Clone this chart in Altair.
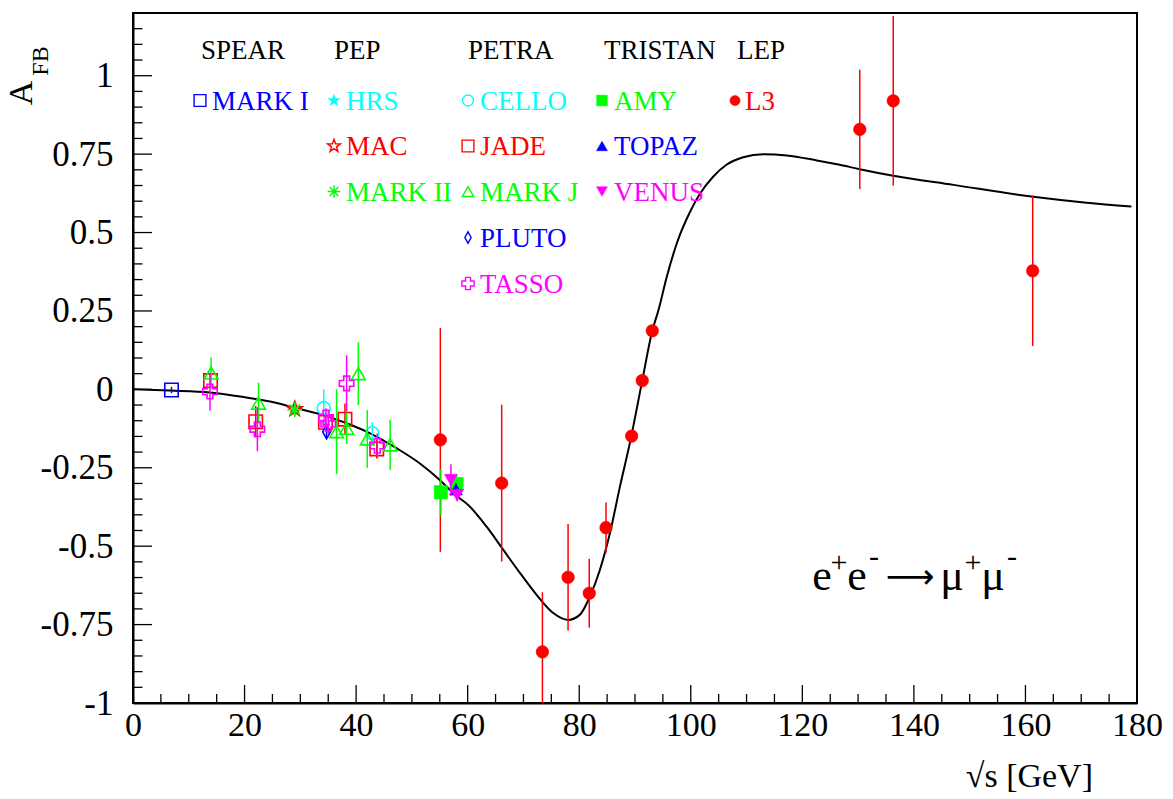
import altair as alt
import pandas as pd
import numpy as np

# ------------------------------------------------------------------ data
CURVE_X = [0, 6.6, 13.8, 19.2, 24.6, 29.3, 34.1, 38.3, 42.5, 47.3, 51.5, 55.0,
           57.4, 60.4, 63.4, 66.4, 69.4, 72.4, 75.4, 78.0, 80.1, 81.9, 83.7,
           85.5, 87.3, 89.2, 91.3, 93.1, 94.2, 95.7, 97.5, 99.9, 101.7, 104.0,
           106.4, 109.4, 113.0, 117.2, 122.6, 126.7, 130.3, 136.3, 147.1,
           161.4, 171.0, 179.0]
CURVE_Y = [0.0, -0.004, -0.010, -0.023, -0.039, -0.060, -0.082, -0.108, -0.140,
           -0.188, -0.237, -0.289, -0.331, -0.374, -0.438, -0.512, -0.586,
           -0.656, -0.714, -0.735, -0.719, -0.661, -0.576, -0.459, -0.310,
           -0.161, 0.028, 0.187, 0.252, 0.359, 0.466, 0.567, 0.625, 0.678,
           0.716, 0.740, 0.750, 0.746, 0.730, 0.716, 0.702, 0.681, 0.652,
           0.614, 0.595, 0.583]

MARKI_X = [6.9]
MARKI_Y = [-0.002]
MARKI_E = [0.01]

HRS_X = [29.0]
HRS_Y = [-0.060]
HRS_E = [0.02]

MAC_X = [29.0]
MAC_Y = [-0.063]
MAC_E = [0.015]

MARKII_X = [29.0]
MARKII_Y = [-0.065]
MARKII_E = [0.02]

CELLO_X = [34.2, 42.9]
CELLO_Y = [-0.060, -0.140]
CELLO_E = [0.06, 0.035]

JADE_X = [13.9, 22.0, 34.5, 38.0, 43.7]
JADE_Y = [0.028, -0.103, -0.105, -0.095, -0.190]
JADE_E = [0.02, 0.05, 0.02, 0.05, 0.03]

MARKJ_X = [14.0, 22.5, 36.5, 38.3, 40.4, 42.0, 46.1]
MARKJ_Y = [0.052, -0.044, -0.135, -0.124, 0.050, -0.158, -0.177]
MARKJ_E = [0.05, 0.065, 0.135, 0.05, 0.10, 0.092, 0.08]

PLUTO_X = [34.7]
PLUTO_Y = [-0.135]
PLUTO_E = [0.02]

TASSO_X = [13.8, 22.3, 34.6, 35.0, 38.3, 43.8]
TASSO_Y = [-0.007, -0.127, -0.090, -0.110, 0.019, -0.180]
TASSO_E = [0.06, 0.07, 0.03, 0.03, 0.09, 0.04]

AMY_X = [55.2, 58.0]
AMY_Y = [-0.328, -0.302]
AMY_E = [0.073, 0.03]

TOPAZ_X = [57.9]
TOPAZ_Y = [-0.319]
TOPAZ_E = [0.02]

VENUS_X = [57.0, 58.1]
VENUS_Y = [-0.289, -0.337]
VENUS_E = [0.05, 0.02]

L3_X = [55.1, 66.1, 73.4, 78.0, 81.8, 84.8, 89.4, 91.3, 93.1, 130.3, 136.3, 161.3]
L3_Y = [-0.161, -0.299, -0.837, -0.599, -0.650, -0.441, -0.149, 0.028, 0.187,
        0.829, 0.920, 0.378]
L3_E = [0.357, 0.25, 0.19, 0.17, 0.11, 0.08, 0.01, 0.01, 0.01, 0.19, 0.27, 0.24]

X_LABELS = [0, 20, 40, 60, 80, 100, 120, 140, 160, 180]
Y_LABELS = [-1, -0.75, -0.5, -0.25, 0, 0.25, 0.5, 0.75, 1]

HEADERS = ["SPEAR", "PEP", "PETRA", "TRISTAN", "LEP"]

# name, x, y, err, legend column, legend row
EXPERIMENTS = [
    ("L3", L3_X, L3_Y, L3_E, 4, 0),
    ("MARK I", MARKI_X, MARKI_Y, MARKI_E, 0, 0),
    ("HRS", HRS_X, HRS_Y, HRS_E, 1, 0),
    ("MAC", MAC_X, MAC_Y, MAC_E, 1, 1),
    ("MARK II", MARKII_X, MARKII_Y, MARKII_E, 1, 2),
    ("CELLO", CELLO_X, CELLO_Y, CELLO_E, 2, 0),
    ("JADE", JADE_X, JADE_Y, JADE_E, 2, 1),
    ("MARK J", MARKJ_X, MARKJ_Y, MARKJ_E, 2, 2),
    ("PLUTO", PLUTO_X, PLUTO_Y, PLUTO_E, 2, 3),
    ("TASSO", TASSO_X, TASSO_Y, TASSO_E, 2, 4),
    ("AMY", AMY_X, AMY_Y, AMY_E, 3, 0),
    ("TOPAZ", TOPAZ_X, TOPAZ_Y, TOPAZ_E, 3, 1),
    ("VENUS", VENUS_X, VENUS_Y, VENUS_E, 3, 2),
]

# ------------------------------------------------------------------ styles
BLUE, CYAN, RED, GREEN, MAG = "#0000ff", "#00ffff", "#ff0000", "#00ff00", "#ff00ff"
STAR = ("M0,-1L0.235,-0.324L0.951,-0.309L0.38,0.124L0.588,0.809L0,0.4"
        "L-0.588,0.809L-0.38,0.124L-0.951,-0.309L-0.235,-0.324Z")
ASTER = "M-1,0L1,0M0,-1L0,1M-0.7,-0.7L0.7,0.7M-0.7,0.7L0.7,-0.7"
DIAM = "M0,-1L0.55,0L0,1L-0.55,0Z"
STYLE = {
    "L3": dict(shape="circle", filled=True, color=RED, size=160, lsize=105),
    "MARK I": dict(shape="square", filled=False, color=BLUE, size=180, lsize=140),
    "HRS": dict(shape=STAR, filled=True, color=CYAN, size=220, lsize=150),
    "MAC": dict(shape=STAR, filled=False, color=RED, size=240, lsize=180),
    "MARK II": dict(shape=ASTER, filled=False, color=GREEN, size=220, lsize=160),
    "CELLO": dict(shape="circle", filled=False, color=CYAN, size=170, lsize=120),
    "JADE": dict(shape="square", filled=False, color=RED, size=180, lsize=140),
    "MARK J": dict(shape="triangle-up", filled=False, color=GREEN, size=190, lsize=130),
    "PLUTO": dict(shape=DIAM, filled=False, color=BLUE, size=200, lsize=130),
    "TASSO": dict(shape="cross", filled=False, color=MAG, size=210, lsize=150),
    "AMY": dict(shape="square", filled=True, color=GREEN, size=180, lsize=115),
    "TOPAZ": dict(shape="triangle-up", filled=True, color=BLUE, size=170, lsize=120),
    "VENUS": dict(shape="triangle-down", filled=True, color=MAG, size=170, lsize=120),
}

FONT = "Liberation Serif"
W, H = 1004, 690
OX, OY = 133, 13  # plot origin in the page

xs = alt.Scale(domain=[0, 180], nice=False, zero=False)
ys = alt.Scale(domain=[-1, 1.2], nice=False, zero=False)
X_AX = alt.Axis(values=X_LABELS, labelExpr="'' + datum.value", ticks=False,
                grid=False, domainColor="black", domainWidth=2, labelFont=FONT,
                labelFontSize=34, labelColor="black", labelPadding=5,
                labelFlush=False, labelOverlap=False, title=None)
Y_AX = alt.Axis(values=Y_LABELS, labelExpr="'' + datum.value", ticks=False,
                grid=False, domainColor="black", domainWidth=2, labelFont=FONT,
                labelFontSize=35, labelColor="black", labelPadding=20,
                labelFlush=False, labelOverlap=False, title=None)


def X(f):
    return alt.X(f, type="quantitative", scale=xs, axis=X_AX)


def Y(f):
    return alt.Y(f, type="quantitative", scale=ys, axis=Y_AX)


layers = []
one = pd.DataFrame({"a": [0]})

# inward ticks
xt = np.round(np.arange(0, 181, 5), 3)
xt_major = [v for v in xt if v % 20 == 0]
xt_minor = [v for v in xt if v % 20 != 0]
yt = np.round(np.arange(-1, 1.2001, 0.05), 3)
yt_major = [v for v in yt if abs(v * 4 - round(v * 4)) < 1e-6]
yt_minor = [v for v in yt if abs(v * 4 - round(v * 4)) >= 1e-6]
for vals, ln in ((xt_major, 18), (xt_minor, 9)):
    layers.append(alt.Chart(pd.DataFrame({"v": vals})).mark_rule(color="black", strokeWidth=1.3).encode(
        x=X("v"), y=alt.value(H), y2=alt.value(H - ln)))
for vals, ln in ((yt_major, 19), (yt_minor, 9.5)):
    layers.append(alt.Chart(pd.DataFrame({"v": vals})).mark_rule(color="black", strokeWidth=1.3).encode(
        y=Y("v"), x=alt.value(0), x2=alt.value(ln)))

# theory curve
layers.append(alt.Chart(pd.DataFrame({"x": CURVE_X, "y": CURVE_Y})).mark_line(
    color="black", strokeWidth=2, interpolate="monotone", clip=True).encode(x=X("x"), y=Y("y")))

# data
for name, xv, yv, ev, col, row in EXPERIMENTS:
    st = STYLE[name]
    df = pd.DataFrame({"x": xv, "y": yv, "e": ev})
    df["lo"] = df["y"] - df["e"]
    df["hi"] = df["y"] + df["e"]
    layers.append(alt.Chart(df).mark_rule(color=st["color"], strokeWidth=1.5, clip=True).encode(
        x=X("x"), y=Y("lo"), y2="hi"))
    mk = dict(shape=st["shape"], filled=st["filled"], size=st["size"], opacity=1, clip=True)
    if st["filled"]:
        mk.update(fill=st["color"], stroke=st["color"], strokeWidth=0.5)
    else:
        mk.update(stroke=st["color"], strokeWidth=1.6, fillOpacity=0)
    layers.append(alt.Chart(df).mark_point(**mk).encode(x=X("x"), y=Y("y")))

# legend
SYM_X = [200, 334, 468, 602, 735]
TXT_X = [212, 346, 480, 614, 745]
ROW_Y = [100.5, 146, 191.5, 237.5, 283.5]
HEAD_X = [201, 334, 468, 604, 737]
for i, h in enumerate(HEADERS):
    layers.append(alt.Chart(one).mark_text(text=h, font=FONT, fontSize=27, color="black",
                                          align="left", baseline="alphabetic").encode(
        x=alt.value(HEAD_X[i] - OX), y=alt.value(59 - OY)))
for name, xv, yv, ev, col, row in EXPERIMENTS:
    st = STYLE[name]
    mk = dict(shape=st["shape"], filled=st["filled"], size=st["lsize"], opacity=1)
    if st["filled"]:
        mk.update(fill=st["color"], stroke=st["color"], strokeWidth=0.5)
    else:
        mk.update(stroke=st["color"], strokeWidth=1.4, fillOpacity=0)
    layers.append(alt.Chart(one).mark_point(**mk).encode(
        x=alt.value(SYM_X[col] - OX), y=alt.value(ROW_Y[row] - OY)))
    layers.append(alt.Chart(one).mark_text(text=name, font=FONT, fontSize=27, color=st["color"],
                                          align="left", baseline="alphabetic").encode(
        x=alt.value(TXT_X[col] - OX), y=alt.value(ROW_Y[row] + 9 - OY)))

# reaction label  e+ e- -> mu+ mu-
REACTION = [("e", 822, 590, 44, FONT), ("+", 839, 572, 30, FONT), ("e", 857, 590, 44, FONT),
            ("-", 874, 566, 30, FONT), ("\u27f6", 910, 588, 34, "DejaVu Sans"),
            ("\u03bc", 952, 590, 44, FONT),
            ("+", 973, 572, 30, FONT), ("\u03bc", 993, 590, 44, FONT), ("-", 1012, 566, 30, FONT)]
for t, px, py, fs, fnt in REACTION:
    layers.append(alt.Chart(one).mark_text(text=t, font=fnt, fontSize=fs, color="black",
                                          align="center", baseline="alphabetic").encode(
        x=alt.value(px - OX), y=alt.value(py - OY)))

# axis titles
layers.append(alt.Chart(one).mark_text(text="\u221as [GeV]", font=FONT, fontSize=34, color="black",
                                      align="right", baseline="alphabetic").encode(
    x=alt.value(1093 - OX), y=alt.value(787 - OY)))
layers.append(alt.Chart(one).mark_text(text="A", font=FONT, fontSize=34, color="black", angle=270,
                                      align="center", baseline="middle").encode(
    x=alt.value(22 - OX), y=alt.value(93 - OY)))
layers.append(alt.Chart(one).mark_text(text="FB", font=FONT, fontSize=24, color="black", angle=270,
                                      align="center", baseline="middle").encode(
    x=alt.value(41 - OX), y=alt.value(61 - OY)))

chart = alt.layer(*layers).properties(
    width=W, height=H,
    autosize=alt.AutoSizeParams(type="none"),
    padding={"left": OX, "top": OY, "right": 1173 - OX - W, "bottom": 799 - OY - H},
    background="white",
).configure_view(stroke="black", strokeWidth=2)

chart.save("out.html", embed_options={"renderer": "svg", "actions": False})
